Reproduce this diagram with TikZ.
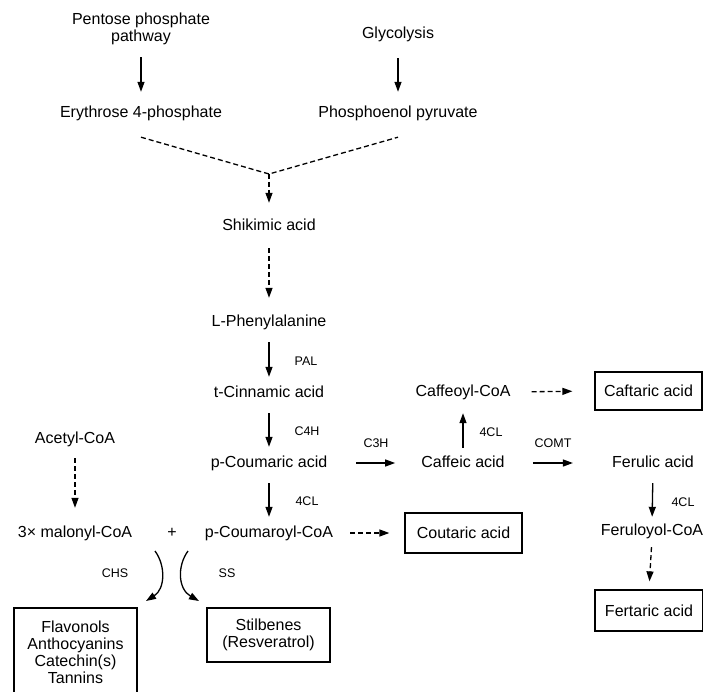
\documentclass[tikz,border=0pt]{standalone}
\usepackage{fontspec}
\setmainfont{Liberation Sans}
\usetikzlibrary{arrows.meta}

\begin{document}
\begin{tikzpicture}[x=1pt,y=-1pt,
    mol/.style={inner sep=0pt, text height=11pt, text depth=3pt, font=\fontsize{16}{17}\selectfont},
    enz/.style={inner sep=0pt, font=\fontsize{12.5}{14}\selectfont},
    prodbox/.style={draw, line width=1.3pt, inner sep=0pt, align=center, font=\fontsize{16}{17}\selectfont},
    flow/.style={line width=1.3pt, -{Triangle[length=10pt,width=7pt]}},
    dline/.style={line width=1.3pt, dash pattern=on 5pt off 3pt},
    dflow/.style={flow, dash pattern=on 5pt off 3pt},
    vstep/.style={flow, shorten <=13pt, shorten >=9pt}]

    \clip (0,0) rectangle (703,692);

    % Sources
    \node[inner sep=0pt, align=center, font=\fontsize{16}{17}\selectfont] (ppp) at (141,29) {Pentose phosphate\\pathway};
    \node[mol] (glyc) at (398,35) {Glycolysis};
    \node[mol] (e4p) at (141,114) {Erythrose 4-phosphate};
    \node[mol] (pep) at (398,114) {Phosphoenol pyruvate};
    \coordinate (meet) at (269,174);

    % Main column
    \node[mol] (shik) at (269,227) {Shikimic acid};
    \node[mol] (phe) at (269,322) {L-Phenylalanine};
    \node[mol] (cin) at (269,393) {t-Cinnamic acid};
    \node[mol] (cou) at (269,463) {p-Coumaric acid};
    \node[mol] (coucoa) at (269,533) {p-Coumaroyl-CoA};

    % Malonyl branch
    \node[mol] (acoa) at (75,439) {Acetyl-CoA};
    \node[mol] (mal) at (75,533) {3× malonyl-CoA};
    \node[mol] (plus) at (172,533) {+};

    % Caffeic and ferulic branch
    \node[mol] (caf) at (463,463) {Caffeic acid};
    \node[mol] (cafcoa) at (463,392) {Caffeoyl-CoA};
    \node[mol] (fer) at (653,463) {Ferulic acid};
    \node[mol] (fercoa) at (652,531) {Feruloyol-CoA};

    % End products
    \node[prodbox, minimum width=107pt, minimum height=38pt] (caft) at (648.5,391) {Caftaric acid};
    \node[prodbox, minimum width=117pt, minimum height=40pt] (cout) at (463.5,533) {Coutaric acid};
    \node[prodbox, minimum width=108pt, minimum height=41pt] (fert) at (649,610.5) {Fertaric acid};
    \node[prodbox, minimum width=123pt, minimum height=54pt] (stil) at (268.5,635) {Stilbenes\\(Resveratrol)};
    \node[prodbox, minimum width=123pt, minimum height=89pt] (flav) at (75.5,652.5) {Flavonols\\Anthocyanins\\Catechin(s)\\Tannins};

    % Enzymes
    \node[enz] (pal) at (306,361) {PAL};
    \node[enz] (c4h) at (307,431) {C4H};
    \node[enz] (clA) at (307,501) {4CL};
    \node[enz] (c3h) at (376,443) {C3H};
    \node[enz] (clB) at (491,432) {4CL};
    \node[enz] (comt) at (553,443) {COMT};
    \node[enz] (clC) at (683,502) {4CL};
    \node[enz] (chs) at (115,573) {CHS};
    \node[enz] (ss) at (227,573) {SS};

    % Arrows at the top
    \draw[flow, shorten <=12pt, shorten >=15pt] (ppp.south) -- (e4p.north);
    \draw[flow, shorten <=16pt, shorten >=15pt] (glyc.south) -- (pep.north);
    \draw[dline] ([yshift=-16pt]e4p.south) -- (meet) -- ([yshift=-16pt]pep.south);
    \draw[dflow, shorten >=17pt] (meet) -- (shik.north);
    \draw[dflow, shorten <=14pt, shorten >=17pt] (shik.south) -- (phe.north);

    % Main column
    \draw[vstep] (phe.south) -- (cin.north);
    \draw[vstep] (cin.south) -- (cou.north);
    \draw[vstep] (cou.south) -- (coucoa.north);
    \draw[dflow, shorten <=12pt, shorten >=18pt] (acoa.south) -- (mal.north);
    \draw[dflow, shorten <=17pt, shorten >=15pt] (coucoa.east) -- (cout.west);

    % Right side
    \draw[flow, shorten <=29pt, shorten >=26pt] (cou.east) -- (caf.west);
    \draw[flow, shorten <=28pt, shorten >=39pt] (caf.east) -- (fer.west);
    \draw[flow, shorten <=8pt, shorten >=14pt] (caf.north) -- (cafcoa.south);
    \draw[dflow, shorten <=21pt, shorten >=22pt] (cafcoa.east) -- (caft.west);
    \draw[flow, shorten <=13pt, shorten >=7pt] (fer.south) -- (fercoa.north);
    \draw[dflow, shorten <=9pt, shorten >=8pt] (fercoa.south) -- (fert.north);

    % Curved arrows to the boxes
    \coordinate (chsfrom) at (155,551);
    \coordinate (chsto) at (146,601);
    \coordinate (ssfrom) at (188,551);
    \coordinate (ssto) at (199,601);
    \draw[flow] (chsfrom) .. controls (166,566) and (165,589) .. (chsto);
    \draw[flow] (ssfrom) .. controls (177,566) and (178,589) .. (ssto);
\end{tikzpicture}
\end{document}
